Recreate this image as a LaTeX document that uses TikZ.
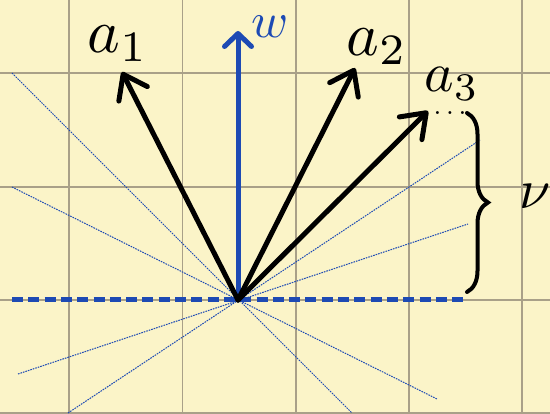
\documentclass[tikz,border=0pt]{standalone}
\usepackage{tikz}
\usetikzlibrary{arrows.meta,decorations.pathreplacing}
\definecolor{paper}{HTML}{FBF4C8}
\definecolor{gridline}{HTML}{A9A088}
\definecolor{penblue}{HTML}{1D4AB4}

\begin{document}
\begin{tikzpicture}[
  x=1pt,y=-1pt,
  vec/.style={line width=5pt,line cap=round,line join=round,
              -{Straight Barb[length=22pt,width=32pt,line cap=round,line join=round]}},
  wvec/.style={vec,penblue,-{Straight Barb[length=13pt,width=27pt,line cap=round,line join=round]}},
  plane/.style={penblue,line width=5pt,dash pattern=on 11pt off 5.3pt},
  ray/.style={penblue,line width=1pt,dash pattern=on 1.6pt off 1pt},
  lbl/.style={inner sep=0pt}
]
% paper and grid
\fill[paper] (0,0) rectangle (550,414);
\useasboundingbox (0,0) rectangle (550,414);
\foreach \gx in {69,182.5,296,409,522}
  \draw[gridline,line width=1.5pt] (\gx,0) -- (\gx,414);
\foreach \gy in {73,187,300,413}
  \draw[gridline,line width=1.5pt] (0,\gy) -- (550,\gy);

\coordinate (O) at (238,300);
\coordinate (W) at (238,31);
\coordinate (A1) at (122,72);
\coordinate (A2) at (355,68);
\coordinate (A3) at (428,111);
\coordinate (pl) at (12,300);
\coordinate (pr) at (466,300);

% thin dotted rays through the origin
\coordinate (r1a) at (12,73);   \coordinate (r1b) at (352,413);
\coordinate (r2a) at (12,187);  \coordinate (r2b) at (437,399);
\coordinate (r3a) at (18,374);  \coordinate (r3b) at (468,224);
\coordinate (r4a) at (68,413);  \coordinate (r4b) at (480,140);
\foreach \r in {1,2,3,4}
  \draw[ray] (r\r a) -- (r\r b);

\draw[plane] (pl) -- (pr);

\draw[wvec] (O) -- (W);
\draw[vec] (O) -- (A1);
\draw[vec] (O) -- (A2);
\draw[vec] (O) -- (A3);

\node[lbl,scale=6.2] (la1) at (118,44) {$a_1$};
\node[lbl,scale=6.2] (la2) at (377,47) {$a_2$};
\node[lbl,scale=5.6] (la3) at (452,84) {$a_3$};
\node[lbl,scale=5,text=penblue] (lw) at (270,27) {$w$};
\node[lbl,scale=2.8,anchor=base] (dots) at (450,115) {$\ldots$};

% brace over the spread
\coordinate (btop) at (467,113);
\coordinate (bbot) at (467,292);
\draw[line width=4pt,line cap=round,decorate,decoration={brace,amplitude=21pt}] (btop) -- (bbot);
\node[lbl,scale=5.6] (nu) at (535,196) {$\nu$};
\end{tikzpicture}
\end{document}
